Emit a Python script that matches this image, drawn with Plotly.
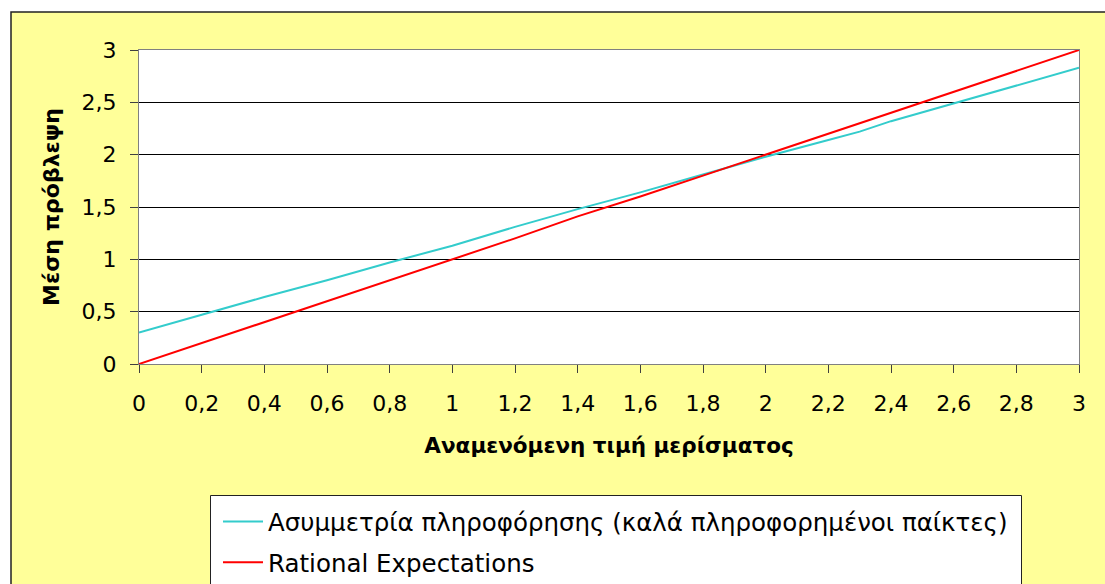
import plotly.graph_objects as go

# ---- data ----
x_vals = [0, 0.2, 0.4, 0.6, 0.8, 1.0, 1.2, 1.4, 1.6, 1.8, 2.0, 2.2, 2.3, 2.4, 2.6, 2.8, 3.0]
asym_vals = [0.30, 0.47, 0.64, 0.80, 0.97, 1.13, 1.31, 1.48, 1.64, 1.81, 1.98, 2.14, 2.22, 2.32, 2.49, 2.66, 2.83]
rational_vals = [0.0, 0.2, 0.4, 0.6, 0.8, 1.0, 1.2, 1.41, 1.6, 1.8, 2.0, 2.2, 2.3, 2.4, 2.6, 2.8, 3.0]

series_names = ["Ασυμμετρία πληροφόρησης (καλά πληροφορημένοι παίκτες)", "Rational Expectations"]
x_tick_vals = [0, 0.2, 0.4, 0.6, 0.8, 1, 1.2, 1.4, 1.6, 1.8, 2, 2.2, 2.4, 2.6, 2.8, 3]
x_tick_labels = ["0", "0,2", "0,4", "0,6", "0,8", "1", "1,2", "1,4", "1,6", "1,8", "2", "2,2", "2,4", "2,6", "2,8", "3"]
y_tick_vals = [0, 0.5, 1, 1.5, 2, 2.5, 3]
y_tick_labels = ["0", "0,5", "1", "1,5", "2", "2,5", "3"]
x_title = "Αναμενόμενη τιμή μερίσματος"
y_title = "Μέση πρόβλεψη"

W, H = 1105, 584
L, R, T, B = 139, 26, 50, 220
PW, PH = W - L - R, H - T - B

def px_x(p):
    return (p - L) / PW

def px_y(p):
    return (H - B - p) / PH

FONT = "DejaVu Sans, Verdana, sans-serif"

fig = go.Figure()
fig.add_trace(go.Scatter(x=x_vals, y=asym_vals, mode="lines", name=series_names[0],
                         line=dict(color="#33CCCC", width=2), legendgroup="a"))
fig.add_trace(go.Scatter(x=x_vals, y=rational_vals, mode="lines", name=series_names[1],
                         line=dict(color="#FF0000", width=2), legendgroup="b"))

shapes = [
    # white margins outside chart area
    dict(type="rect", xref="paper", yref="paper", x0=px_x(-10), x1=px_x(11), y0=px_y(H + 10), y1=px_y(-10),
         fillcolor="white", line=dict(width=0), layer="below"),
    dict(type="rect", xref="paper", yref="paper", x0=px_x(-10), x1=px_x(W + 10), y0=px_y(12), y1=px_y(-10),
         fillcolor="white", line=dict(width=0), layer="below"),
    # chart area border
    dict(type="rect", xref="paper", yref="paper", x0=px_x(11), x1=px_x(W + 20), y0=px_y(H + 20), y1=px_y(12),
         fillcolor="rgba(0,0,0,0)", line=dict(color="#222222", width=1.5), layer="below"),
    # legend box
    dict(type="rect", xref="paper", yref="paper", x0=px_x(210.5), x1=px_x(1021.5), y0=px_y(H + 20), y1=px_y(495.5),
         fillcolor="white", line=dict(color="#222222", width=1), layer="below"),
]

fig.update_layout(
    width=W, height=H, autosize=False,
    margin=dict(l=L, r=R, t=T, b=B, pad=0, autoexpand=False),
    paper_bgcolor="#FFFF99",
    plot_bgcolor="white",
    separators=",.",
    font=dict(family=FONT, size=22, color="black"),
    showlegend=True,
    legend=dict(x=px_x(218), y=px_y(499), xanchor="left", yanchor="top",
                bgcolor="rgba(0,0,0,0)", borderwidth=0,
                font=dict(family=FONT, size=24.5, color="black"),
                traceorder="grouped", tracegroupgap=6, itemwidth=40),
    shapes=shapes,
    xaxis=dict(range=[0, 3], tickvals=x_tick_vals, ticktext=x_tick_labels,
               showgrid=False, zeroline=False, showline=True, linecolor="#808080", linewidth=1,
               mirror=True, ticks="outside", ticklen=8, tickcolor="#404040", tickwidth=1,
               ticklabelstandoff=12, tickfont=dict(family=FONT, size=22),
               title=dict(text="<b>" + x_title + "</b>", font=dict(family=FONT, size=21.5), standoff=22)),
    yaxis=dict(range=[0, 3], tickvals=y_tick_vals, ticktext=y_tick_labels,
               showgrid=True, gridcolor="#000000", gridwidth=1, zeroline=False,
               showline=True, linecolor="#808080", linewidth=1, mirror=True,
               ticks="outside", ticklen=8, tickcolor="#404040", tickwidth=1,
               ticklabelstandoff=9, tickfont=dict(family=FONT, size=22),
               title=dict(text="<b>" + y_title + "</b>", font=dict(family=FONT, size=22), standoff=15)),
)

fig.write_html("out.html")
